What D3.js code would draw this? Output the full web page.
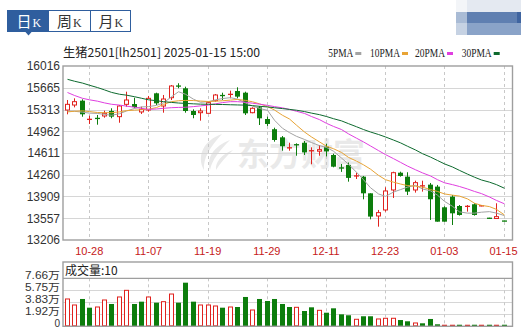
<!DOCTYPE html>
<html><head><meta charset="utf-8">
<script src="https://cdn.jsdelivr.net/npm/d3@7/dist/d3.min.js"></script>
<style>body{margin:0;background:#fff}svg{display:block}</style>
</head><body><svg id="c" width="521" height="332"></svg>
<script>
const dates = ['10-23','10-24','10-25','10-28','10-29','10-30','10-31','11-01','11-04','11-05','11-06','11-07',
 '11-08','11-11','11-12','11-13','11-14','11-15','11-18','11-19','11-20','11-21','11-22','11-25','11-26','11-27',
 '11-28','11-29','12-02','12-03','12-04','12-05','12-06','12-09','12-10','12-11','12-12','12-13','12-16','12-17',
 '12-18','12-19','12-20','12-23','12-24','12-25','12-26','12-27','12-30','12-31','01-02','01-03','01-06','01-07',
 '01-08','01-09','01-10','01-13','01-14','01-15'];
const open  = [15305,15386,15456,15150,15175,15209,15290,15198,15397,15402,15274,15305,15575,15370,15504,15700,15656,15289,15262,15252,
 15456,15548,15553,15612,15585,15262,15349,15160,14995,14864,14690,14750,14776,14640,14640,14713,14579,14375,14418,14235,
 14229,13960,13594,13691,14014,14293,14229,14014,14072,14100,14068,13734,13906,13755,13745,13783,13755,13560,13553,13515];
const high  = [15467,15494,15478,15213,15225,15295,15333,15386,15601,15504,15359,15532,15585,15548,15709,15737,15682,15316,15333,15440,
 15564,15585,15618,15672,15601,15349,15370,15198,15020,14885,14777,14767,14805,14703,14740,14761,14600,14434,14457,14293,
 14240,13960,13691,14057,14309,14309,14300,14164,14164,14127,14095,13750,13933,13771,13771,13799,13771,13565,13799,13518];
const low   = [15236,15348,15197,15080,15068,15181,15172,15100,15359,15333,15241,15278,15386,15262,15467,15656,15262,15172,15133,15252,
 15440,15467,15494,15494,15225,15252,15063,15048,14794,14648,14648,14567,14579,14429,14567,14556,14380,14306,14148,14191,
 13863,13540,13421,13664,13885,14229,13932,13971,13987,13530,13502,13502,13448,13600,13664,13600,13750,13550,13545,13508];
const close = [15397,15440,15236,15160,15165,15252,15198,15370,15467,15354,15316,15494,15413,15483,15693,15685,15289,15225,15289,15424,
 15548,15532,15564,15521,15252,15333,15171,15080,14821,14720,14700,14740,14621,14656,14665,14637,14390,14365,14209,14248,
 13960,13584,13648,13998,14293,14240,13987,14132,14090,13864,13502,13502,13637,13610,13755,13610,13762,13555,13583,13510];
const volume = [43600,34000,43600,29700,30800,42000,35600,46800,57400,35600,39300,46800,37700,39300,51500,37700,69600,39300,34000,34000,
 32400,29700,30800,30800,46800,26000,43600,40400,43600,35600,30800,30300,24400,30300,25500,21700,28700,19100,17600,11200,
 16000,16000,11700,12800,12800,10000,8000,5300,4800,11700,3200,2500,2500,2500,2500,2500,2500,2500,2500,2500];
const volumeUp = [1,1,0,0,1,1,0,1,1,0,0,1,0,1,1,0,0,0,1,1,1,0,1,0,0,1,0,0,0,0,
 0,1,0,0,1,0,0,0,0,1,0,0,1,1,1,0,0,1,0,0,0,1,1,0,1,0,1,0,1,0];
const ma5  = [15290,15285,15270,15255,15250,15235,15220,15245,15290,15330,15355,15360,15380,15420,15520,15600,15560,15480,15430,15440,
 15470,15490,15505,15480,15420,15370,15330,15300,15140,15010,14940,14880,14830,14780,14730,14700,14640,14530,14430,14300,
 14180,14050,13950,13910,13980,14020,14060,14090,14030,14000,13930,13830,13750,13660,13640,13640,13655,13664,13640,13600];
const ma10 = [15275,15285,15292,15280,15265,15262,15262,15275,15295,15303,15310,15318,15345,15395,15440,15455,15460,15458,15450,15442,
 15448,15455,15465,15476,15460,15438,15405,15360,15305,15220,15160,15060,14950,14870,14790,14720,14680,14620,14540,14480,
 14420,14350,14250,14180,14140,14110,14085,14075,14060,14020,13990,13950,13930,13915,13870,13800,13765,13745,13700,13610];
const ma20 = [15588,15540,15494,15470,15448,15420,15398,15385,15368,15350,15332,15316,15322,15333,15343,15347,15350,15360,15372,15386,
 15405,15425,15440,15440,15430,15415,15400,15380,15360,15340,15315,15285,15250,15200,15150,15090,15040,14990,14920,14850,
 14790,14725,14650,14585,14520,14460,14400,14340,14290,14240,14180,14130,14100,14070,14030,13990,13955,13900,13845,13790];
const ma30 = [15801,15770,15740,15705,15668,15630,15590,15560,15545,15520,15495,15470,15455,15440,15428,15418,15412,15405,15400,15398,
 15396,15394,15390,15387,15384,15376,15365,15355,15342,15328,15315,15302,15280,15255,15230,15200,15165,15130,15085,15035,
 14990,14950,14910,14870,14820,14775,14720,14660,14600,14545,14490,14435,14385,14330,14270,14220,14175,14140,14100,14041];
const priceTicks = [16016,15665,15313,14962,14611,14260,13909,13557,13206];
const volTicks = [76600,57500,38300,19200,0];
const volTickLabels = ['7.66万','5.75万','3.83万','1.92万','0'];
const tickDates = ['10-28','11-07','11-19','11-29','12-11','12-23','01-03','01-15'];
const maNames = ['5PMA','10PMA','20PMA','30PMA'];
const maColors = ['#a3a3a3','#e8a435','#e03fe0','#0d6a2e'];
const maSeries = [ma5, ma10, ma20, ma30];

const RED = '#e0221e', GREEN = '#0c7d0c';
const svg = d3.select('#c');
const PL = 63, PR = 512.5, PT = 66, PB = 240;
const VT = 262, VH = 278.3, VB = 326.3;

const x = d3.scaleBand().domain(dates).range([63.4, 507.2]).paddingInner(0);
const cx = d => Math.round(x(d) + x.bandwidth() / 2) + 0.5;
const y = d3.scaleLinear().domain([13206, 16016]).range([PB, PT]);
const yv = d3.scaleLinear().domain([0, 76600]).range([VB, VH]);

// top tabs
const tabs = svg.append('g');
tabs.append('rect').attr('x', 7.5).attr('y', 10.5).attr('width', 123).attr('height', 21).attr('fill', '#fff').attr('stroke', '#2f5e9e');
tabs.append('rect').attr('x', 7.5).attr('y', 10.5).attr('width', 41.5).attr('height', 21).attr('fill', '#2f5e9e');
tabs.append('line').attr('x1', 90.5).attr('x2', 90.5).attr('y1', 10.5).attr('y2', 31.5).attr('stroke', '#2f5e9e');
tabs.append('path').attr('d', 'M25,31.5 L32,31.5 L28.5,35.5 Z').attr('fill', '#2f5e9e');
[['日', 16.5, '#fff'], ['周', 57, '#333'], ['月', 98.5, '#333']].forEach(([t, tx, col]) => {
  const tt = tabs.append('text').attr('x', tx).attr('y', 27).attr('fill', col)
    .style('font-family', '"Noto Sans CJK SC", sans-serif').style('font-size', '15px');
  tt.append('tspan').text(t);
  tt.append('tspan').attr('dx', 1).style('font-family', '"Liberation Serif", serif').style('font-size', '12px').text('K');
});

// blurred top-right block
const blur = svg.append('g');
[[456, 0, 11, 12, '#f3f5f8'], [467, 0, 54, 12, '#e4e9f1'], [456, 12, 11, 11, '#a9bbd5'], [467, 12, 54, 11, '#5f7fb1'],
 [456, 23, 11, 12, '#c6d2e3'], [467, 23, 54, 12, '#8aa3c8'], [517, 12, 4, 11, '#3f64a0']].forEach(r =>
  blur.append('rect').attr('x', r[0]).attr('y', r[1]).attr('width', r[2]).attr('height', r[3]).attr('fill', r[4]));

// title + legend
svg.append('text').attr('x', 63).attr('y', 57).attr('textLength', 197).attr('lengthAdjust', 'spacingAndGlyphs')
  .style('font-family', '"Noto Sans CJK SC", sans-serif').style('font-size', '12px').attr('fill', '#222')
  .text('生猪2501[lh2501] 2025-01-15 15:00');
const legX = [328.3, 370, 415, 461.7], legW = [25, 30, 30, 30];
maNames.forEach((n, i) => {
  svg.append('text').attr('x', legX[i]).attr('y', 57).attr('textLength', legW[i]).attr('lengthAdjust', 'spacingAndGlyphs')
    .style('font-family', '"Liberation Serif", serif').style('font-size', '11.5px').attr('fill', '#222').text(n);
  svg.append('rect').attr('x', legX[i] + legW[i] + 2).attr('y', 52).attr('width', 6).attr('height', 3).attr('fill', maColors[i]);
});

// watermark
const wm = svg.append('g').attr('fill', '#e9e9e9');
wm.append('path').attr('d', 'M222,134 C204,140 196,156 204,170 C203,158 210,147 222,134 Z');
wm.append('path').attr('d', 'M230,140 C214,146 206,158 210,170 C212,160 219,151 230,140 Z');
wm.append('path').attr('d', 'M233,150 C222,154 215,162 216,170 C220,163 226,157 233,150 Z');
wm.append('text').attr('x', 237).attr('y', 166).style('font-family', '"Noto Sans CJK SC", sans-serif')
  .style('font-size', '32px').style('font-weight', 'bold').text('东方财富');

// main grid
const g = svg.append('g');
g.selectAll('.hg').data(priceTicks.slice(1, -1)).join('line')
  .attr('x1', PL).attr('x2', PR).attr('y1', d => Math.round(y(d)) + 0.5).attr('y2', d => Math.round(y(d)) + 0.5)
  .attr('stroke', '#d6d6d6');
g.selectAll('.vg').data(tickDates).join('line')
  .attr('x1', d => cx(d)).attr('x2', d => cx(d)).attr('y1', PT).attr('y2', PB)
  .attr('stroke', '#c8c8c8').attr('stroke-dasharray', '3,3');

// candles
const cg = svg.append('g');
dates.forEach((d, i) => {
  const up = close[i] >= open[i];
  const col = up ? RED : GREEN;
  const X = cx(d);
  cg.append('line').attr('x1', X).attr('x2', X).attr('y1', y(high[i])).attr('y2', y(low[i])).attr('stroke', col);
  const yt = y(Math.max(open[i], close[i])), yb = y(Math.min(open[i], close[i]));
  if (yb - yt < 1.5) {
    cg.append('rect').attr('x', X - 2.5).attr('y', (yt + yb) / 2 - 0.6).attr('width', 5).attr('height', 1.3).attr('fill', col);
  } else if (up) {
    cg.append('rect').attr('x', X - 2).attr('y', yt).attr('width', 4).attr('height', yb - yt)
      .attr('fill', '#fff').attr('stroke', col);
  } else {
    cg.append('rect').attr('x', X - 2.5).attr('y', yt).attr('width', 5).attr('height', yb - yt).attr('fill', col);
  }
});

// MA lines
maSeries.forEach((s, k) => {
  svg.append('path').datum(s).attr('fill', 'none').attr('stroke', maColors[k]).attr('stroke-width', 1)
    .attr('d', d3.line().x((v, i) => cx(dates[i])).y(v => y(v)));
});

// main border
svg.append('rect').attr('x', PL).attr('y', PT).attr('width', PR - PL).attr('height', PB - PT)
  .attr('fill', 'none').attr('stroke', '#9e9e9e').attr('stroke-width', 1.4);

// y axis
const ya = svg.append('g').attr('transform', `translate(${PL},0)`)
  .call(d3.axisLeft(y).tickValues(priceTicks).tickSize(0).tickPadding(3).tickFormat(d3.format('d')));
ya.select('.domain').remove();
ya.selectAll('text').style('font-family', '"Liberation Sans", Arial, sans-serif').style('font-size', '12px').attr('fill', '#333');

// x axis
const xa = svg.append('g').attr('transform', `translate(0,${PB})`)
  .call(d3.axisBottom(x).tickValues(tickDates).tickSize(0).tickPadding(7));
xa.select('.domain').remove();
xa.selectAll('text').style('font-family', '"Liberation Sans", Arial, sans-serif').style('font-size', '11px').attr('fill', '#c62020');

// volume panel
const vg = svg.append('g');
vg.selectAll('.vh').data(volTicks.slice(1, -1)).join('line')
  .attr('x1', PL).attr('x2', PR).attr('y1', d => Math.round(yv(d)) + 0.5).attr('y2', d => Math.round(yv(d)) + 0.5)
  .attr('stroke', '#d6d6d6');
vg.selectAll('.vv').data(tickDates).join('line')
  .attr('x1', d => cx(d)).attr('x2', d => cx(d)).attr('y1', VH).attr('y2', VB)
  .attr('stroke', '#c8c8c8').attr('stroke-dasharray', '3,3');
dates.forEach((d, i) => {
  const X = cx(d), col = volumeUp[i] ? RED : GREEN;
  const top = yv(volume[i]), h = VB - top;
  if (volumeUp[i] && h > 3) {
    vg.append('rect').attr('x', X - 2).attr('y', top).attr('width', 4).attr('height', h - 0.5).attr('fill', '#fff').attr('stroke', col);
  } else {
    vg.append('rect').attr('x', X - 2.5).attr('y', top).attr('width', 5).attr('height', h).attr('fill', col);
  }
});
vg.append('rect').attr('x', PL).attr('y', VT).attr('width', PR - PL).attr('height', VB - VT)
  .attr('fill', 'none').attr('stroke', '#9e9e9e').attr('stroke-width', 1.4);
vg.append('line').attr('x1', PL).attr('x2', PR).attr('y1', VH).attr('y2', VH).attr('stroke', '#9e9e9e').attr('stroke-width', 1.2);
vg.append('text').attr('x', 65).attr('y', 275).style('font-family', '"Noto Sans CJK SC", sans-serif').style('font-size', '12px')
  .attr('fill', '#222').text('成交量:10');
const va = vg.append('g').attr('transform', `translate(${PL},0)`)
  .call(d3.axisLeft(yv).tickValues(volTicks).tickSize(0).tickPadding(3).tickFormat((d, i) => volTickLabels[i]));
va.select('.domain').remove();
va.selectAll('text').attr('dy', '0').style('font-family', '"Liberation Sans", "Noto Sans CJK SC", sans-serif')
  .style('font-size', '10px').attr('fill', '#333')
  .attr('textLength', (d, i) => i === 4 ? null : 35).attr('lengthAdjust', 'spacingAndGlyphs');
</script></body></html>
